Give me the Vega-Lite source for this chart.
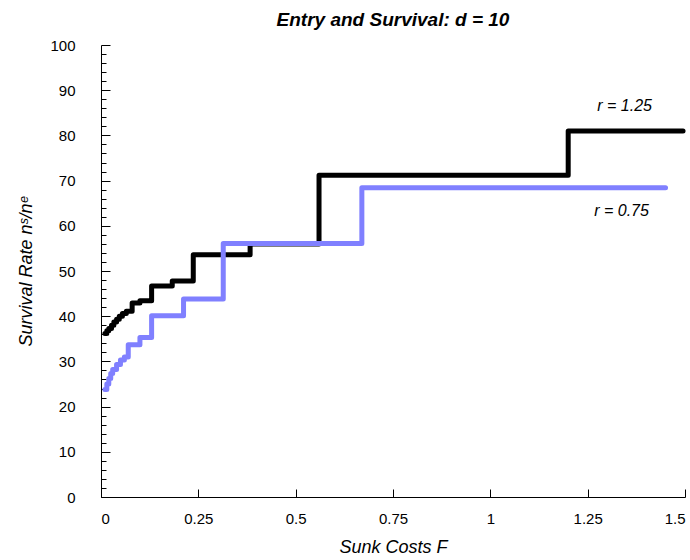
{
  "$schema": "https://vega.github.io/schema/vega-lite/v6.json",
  "width": 584,
  "height": 452,
  "autosize": {"type": "none"},
  "padding": {"left": 101, "top": 45, "right": 5, "bottom": 63},
  "background": "white",
  "config": {
    "view": {"stroke": null},
    "font": "Liberation Sans",
    "axis": {"grid": false, "domainColor": "black", "tickColor": "black", "labelColor": "black", "titleColor": "black", "labelFont": "Liberation Sans", "titleFont": "Liberation Sans"}
  },
  "title": {"text": "Entry and Survival: d = 10", "fontSize": 19, "fontWeight": "bold", "fontStyle": "italic", "font": "Liberation Sans", "anchor": "middle", "offset": 8, "color": "black"},
  "datasets": {
    "r125": [
      {"F": 0.01, "S": 36.2}, {"F": 0.015, "S": 36.8}, {"F": 0.02, "S": 37.3}, {"F": 0.027, "S": 38.0},
      {"F": 0.033, "S": 38.7}, {"F": 0.04, "S": 39.3}, {"F": 0.047, "S": 40.0}, {"F": 0.055, "S": 40.6},
      {"F": 0.065, "S": 41.1}, {"F": 0.08, "S": 42.9}, {"F": 0.1, "S": 43.4}, {"F": 0.13, "S": 46.7},
      {"F": 0.183, "S": 47.8}, {"F": 0.237, "S": 53.6}, {"F": 0.383, "S": 56.0}, {"F": 0.56, "S": 71.2},
      {"F": 1.2, "S": 81.0}, {"F": 1.495, "S": 81.0}
    ],
    "r075": [
      {"F": 0.01, "S": 23.8}, {"F": 0.015, "S": 25.0}, {"F": 0.02, "S": 26.2}, {"F": 0.025, "S": 27.3},
      {"F": 0.03, "S": 28.2}, {"F": 0.04, "S": 29.3}, {"F": 0.05, "S": 30.3}, {"F": 0.06, "S": 31.0},
      {"F": 0.07, "S": 33.7}, {"F": 0.1, "S": 35.3}, {"F": 0.13, "S": 40.1}, {"F": 0.212, "S": 43.8},
      {"F": 0.314, "S": 56.1}, {"F": 0.67, "S": 68.4}, {"F": 1.45, "S": 68.4}
    ],
    "labels": [
      {"F": 1.345, "S": 86.5, "txt": "r = 1.25"},
      {"F": 1.337, "S": 63.2, "txt": "r = 0.75"}
    ]
  },
  "encoding": {
    "x": {"field": "F", "type": "quantitative", "scale": {"domain": [0, 1.5], "nice": false},
      "axis": {"values": [0, 0.25, 0.5, 0.75, 1, 1.25, 1.5], "labelExpr": "'' + datum.value", "tickSize": -8, "labelPadding": 22, "labelFontSize": 15, "title": "Sunk Costs F", "titleFontSize": 18, "titleFontStyle": "italic", "titleFontWeight": "normal", "titlePadding": 12}},
    "y": {"field": "S", "type": "quantitative", "scale": {"domain": [0, 100], "nice": false},
      "axis": {"values": [0,2,4,6,8,10,12,14,16,18,20,22,24,26,28,30,32,34,36,38,40,42,44,46,48,50,52,54,56,58,60,62,64,66,68,70,72,74,76,78,80,82,84,86,88,90,92,94,96,98,100],
        "labelExpr": "datum.value % 10 === 0 ? datum.label : ''", "format": "d",
        "tickSize": {"condition": {"test": "datum.value % 10 === 0", "value": -9}, "value": -5},
        "labelPadding": 35, "labelFontSize": 15, "title": "Survival Rate nˢ/nᵉ", "titleFontSize": 18, "titleFontStyle": "italic", "titleFontWeight": "normal", "titlePadding": 14}}
  },
  "layer": [
    {"data": {"name": "r125"}, "mark": {"type": "line", "interpolate": "step-after", "color": "black", "strokeWidth": 5, "strokeCap": "round", "strokeJoin": "round"}},
    {"data": {"name": "r075"}, "mark": {"type": "line", "interpolate": "step-after", "color": "#8080ff", "strokeWidth": 5, "strokeCap": "round", "strokeJoin": "round"}},
    {"data": {"name": "labels"}, "mark": {"type": "text", "fontSize": 16, "fontStyle": "italic", "color": "black", "font": "Liberation Sans"}, "encoding": {"text": {"field": "txt"}}}
  ]
}
